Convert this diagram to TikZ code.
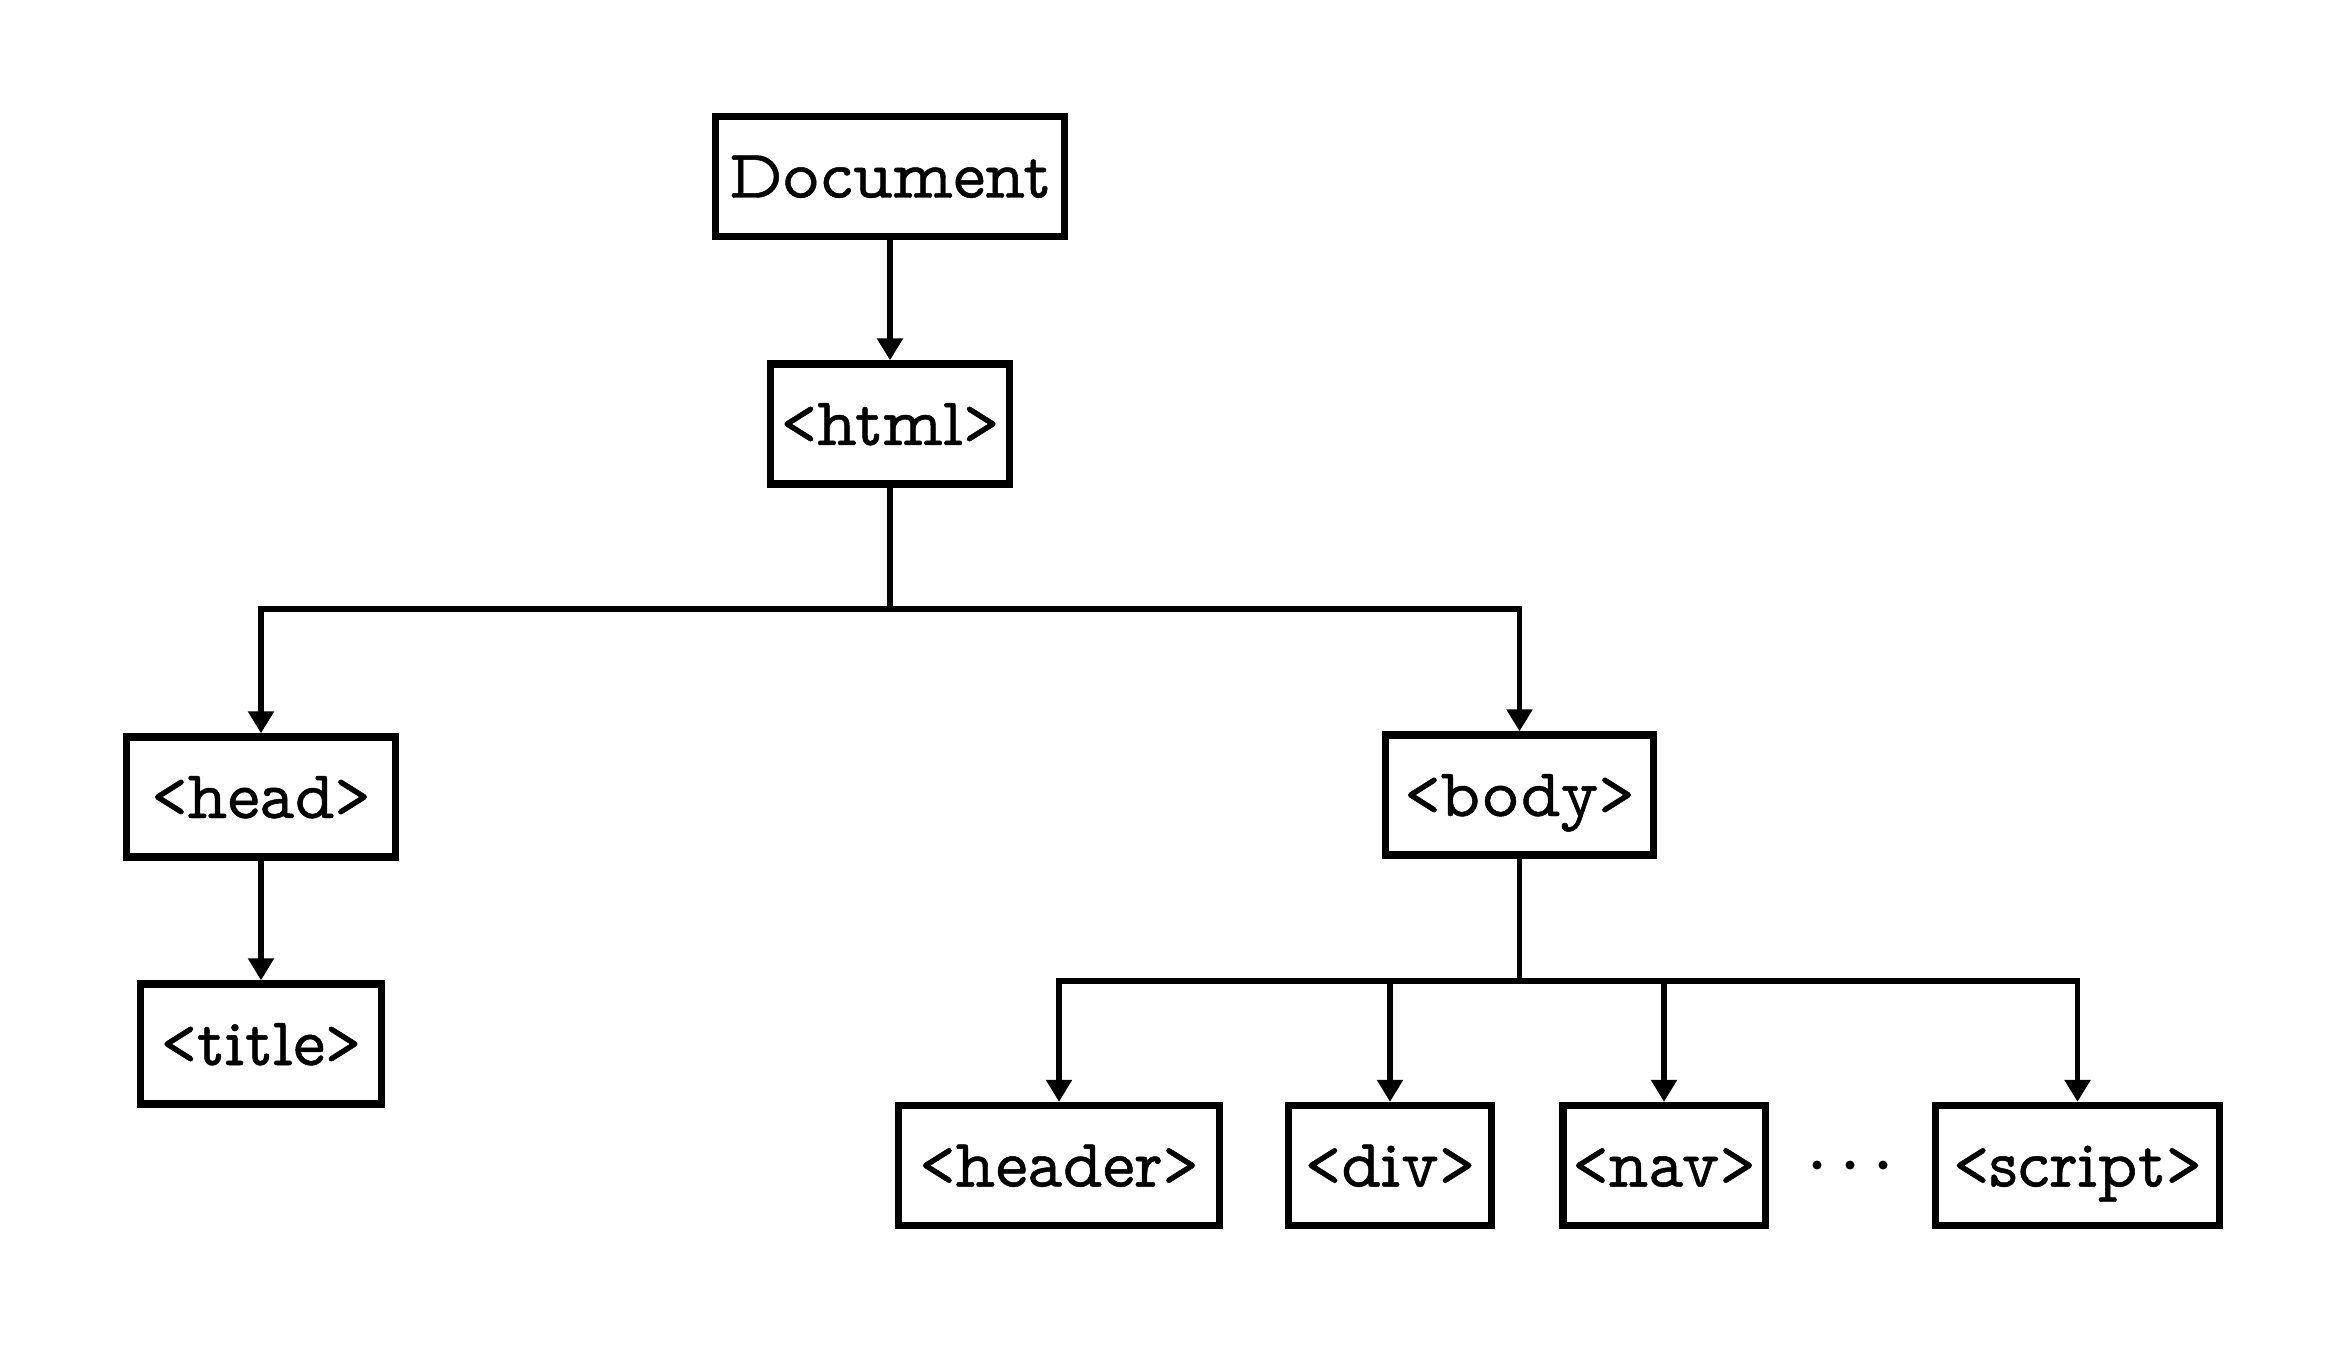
\documentclass[tikz,border=0pt]{standalone}
\usepackage{fontspec}
\newfontface\tagfont[FakeBold=0.7]{Latin Modern Mono Prop}
\usetikzlibrary{arrows.meta}
\begin{document}
\begin{tikzpicture}[x=0.3pt,y=-0.3pt,
  tag/.style={draw=black,line width=2.2pt,fill=white,inner sep=0pt,
    minimum height=36pt,text height=14pt,text depth=1.4pt,
    font=\tagfont\fontsize{20.6}{24}\selectfont},
  link/.style={line width=1.6pt,-{Triangle[length=6.6pt,width=7.5pt]}},
  plain/.style={line width=1.6pt}]
\useasboundingbox (0,0) rectangle (2350,1357);
\node[tag,minimum width=104.7pt] (doc) at (890,176.5) {Document};
\node[tag,minimum width=71.7pt] (html) at (890,424) {<html>};
\node[tag,minimum width=80.7pt] (head) at (261,797) {<head>};
\node[tag,minimum width=80.4pt] (body) at (1519.5,795) {<body>};
\node[tag,minimum width=72.3pt] (title) at (261,1044) {<title>};
\node[tag,minimum width=96.3pt] (header) at (1059,1165.5) {<header>};
\node[tag,minimum width=61pt] (div) at (1390,1165.5) {<div>};
\node[tag,minimum width=60.7pt] (nav) at (1664,1165.5) {<nav>};
\node[tag,minimum width=85.2pt] (script) at (2077.5,1165.5) {<script>};
\coordinate (b1) at (890,609);
\coordinate (b2) at (1519.5,981);
\draw[link] (doc) -- (html);
\draw[plain] (html.south) -- (b1);
\draw[link] (b1) -| (head.north);
\draw[link] (b1) -| (body.north);
\draw[link] (head) -- (title);
\draw[plain] (body.south) -- (b2);
\draw[link] (b2) -| (header.north);
\draw[link] (b2) -| (div.north);
\draw[link] (b2) -| (nav.north);
\draw[link] (b2) -| (script.north);
\fill (1817,1165) circle (4.5) (1850,1165) circle (4.5) (1883,1165) circle (4.5);
\end{tikzpicture}
\end{document}
